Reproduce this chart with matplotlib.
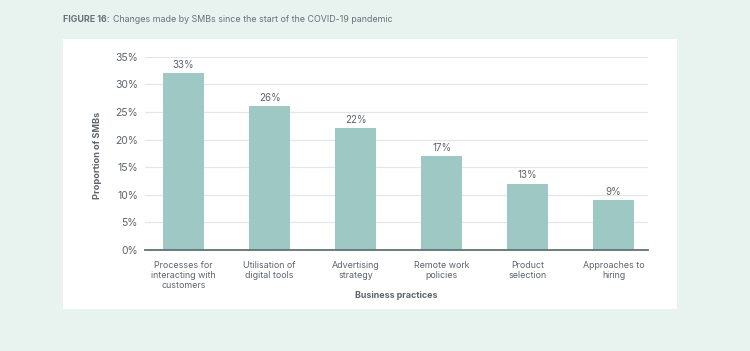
import matplotlib
matplotlib.use("Agg")
import matplotlib.pyplot as plt
from matplotlib.patches import Rectangle

categories = ["Processes for\ninteracting with\ncustomers", "Utilisation of\ndigital tools",
              "Advertising\nstrategy", "Remote work\npolicies", "Product\nselection",
              "Approaches to\nhiring"]
bar_values = [32, 26, 22, 17, 12, 9]
value_labels = ["33%", "26%", "22%", "17%", "13%", "9%"]
yticks = [0, 5, 10, 15, 20, 25, 30, 35]

plt.rcParams['font.family'] = ['Inter', 'DejaVu Sans']

W, H = 750, 351
fig = plt.figure(figsize=(7.5, 3.51), dpi=100)
fig.patch.set_facecolor('#e8f3ef')

# white panel
fig.patches.append(Rectangle((63 / W, 1 - 309 / H), (677 - 63) / W, (309 - 39) / H,
                             transform=fig.transFigure, facecolor='white', edgecolor='none', zorder=-5))

fig.text(63 / W, 1 - 19 / H, "FIGURE 16:", fontsize=6.4, fontweight='bold', color='#6b7078',
         va='center', ha='left')
fig.text(113 / W, 1 - 19 / H, "Changes made by SMBs since the start of the COVID-19 pandemic",
         fontsize=6.4, color='#6b7078', va='center', ha='left')

ax_left, ax_right, ax_top, ax_bot = 145, 648, 56.7, 250
ax = fig.add_axes([ax_left / W, 1 - ax_bot / H, (ax_right - ax_left) / W, (ax_bot - ax_top) / H])
ax.set_zorder(2)
ax.set_facecolor('none')
x = list(range(len(categories)))
ax.bar(x, bar_values, width=0.48, color='#9dc8c3', zorder=2)
for xi, v, lab in zip(x, bar_values, value_labels):
    ax.text(xi, v + 0.6, lab, ha='center', va='bottom', fontsize=7, color='#5f646b')

ax.set_xlim(-0.45, 5.40)
ax.set_ylim(0, 35)
ax.set_yticks(yticks)
ax.set_yticklabels([f"{t}%" for t in yticks], fontsize=7.5, color='#5f646b')
ax.set_xticks(x)
ax.set_xticklabels(categories, fontsize=6.4, color='#5f646b', linespacing=1.12)
ax.tick_params(axis='both', length=0)
ax.tick_params(axis='y', pad=5)
ax.tick_params(axis='x', pad=8)
ax.yaxis.grid(True, color='#e4e6e8', linewidth=0.9, zorder=0)
ax.set_axisbelow(True)
for s in ['top', 'right', 'left']:
    ax.spines[s].set_visible(False)
ax.spines['bottom'].set_color('#5e7472')
ax.spines['bottom'].set_linewidth(1.3)
ax.spines['bottom'].set_zorder(3)

ax_w = ax_right - ax_left
ax_h = ax_bot - ax_top
ax.set_ylabel("Proportion of SMBs", fontsize=6.6, fontweight='bold', color='#5f646b')
ax.yaxis.set_label_coords((97 - ax_left) / ax_w, (ax_bot - 155) / ax_h)
ax.set_xlabel("Business practices", fontsize=6.4, fontweight='bold', color='#5f646b')
ax.xaxis.set_label_coords((396 - ax_left) / ax_w, (ax_bot - 295) / ax_h)
ax.xaxis.label.set_va('center')
ax.yaxis.label.set_va('center')

fig.savefig("out.png", dpi=100, facecolor=fig.get_facecolor())
